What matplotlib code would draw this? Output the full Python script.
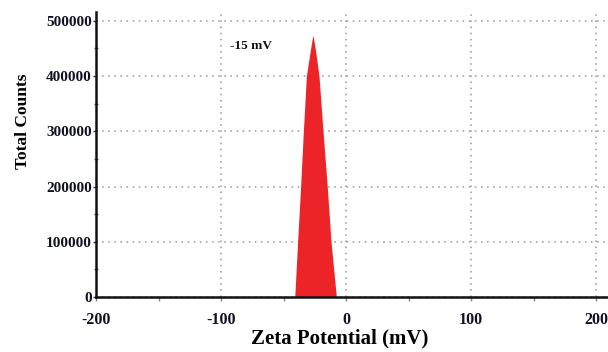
import matplotlib
matplotlib.use("Agg")
import matplotlib.pyplot as plt
from matplotlib.ticker import MultipleLocator

# Data
zeta_mv = [-41.0, -38.7, -36.3, -34.1, -31.7, -29.0, -27.5, -26.5, -25.5, -24.0, -21.6, -18.4, -15.0, -12.0, -7.7]
counts = [0, 100000, 200000, 300000, 400000, 440000, 461000, 474000, 462000, 440000, 400000, 300000, 200000, 100000, 0]
xticks = [-200, -100, 0, 100, 200]
yticks = [0, 100000, 200000, 300000, 400000, 500000]
annotation = "-15 mV"

plt.rcParams['font.family'] = ['Liberation Serif', 'DejaVu Serif']

fig = plt.figure(figsize=(6.08, 3.52), dpi=100)
ax = fig.add_axes([96/608, 55/352, 511/608, 285/352])

ax.fill_between(zeta_mv, counts, 0, color='#ec2327', linewidth=0)

ax.set_xlim(-200, 208.8)
ax.set_ylim(0, 516000)
ax.set_xticks(xticks)
ax.set_yticks(yticks)
ax.xaxis.set_minor_locator(MultipleLocator(50))
ax.yaxis.set_minor_locator(MultipleLocator(50000))
ax.set_xticklabels([str(t) for t in xticks], fontsize=11.5, fontweight='bold', color='#111122')
ax.set_yticklabels([str(t) for t in yticks], fontsize=11, fontweight='bold', color='#111122')

ax.grid(True, which='major', linestyle=(0, (1, 3)), color='#999999', linewidth=1.1)
ax.set_axisbelow(True)

for s in ['top', 'right']:
    ax.spines[s].set_visible(False)
for s in ['left', 'bottom']:
    ax.spines[s].set_linewidth(1.8)
    ax.spines[s].set_color('#111111')

ax.tick_params(axis='x', which='both', direction='out', length=3, width=1, color='#888888', pad=8)
ax.tick_params(axis='y', which='major', direction='out', length=2, width=1, color='#333333', pad=1)
ax.tick_params(axis='y', which='minor', direction='inout', length=3, width=1, color='#666666')

ax.set_xlabel("Zeta Potential (mV)", fontsize=15, fontweight='bold')
ax.xaxis.set_label_coords(0.4775, -0.11)
ax.set_ylabel("Total Counts", fontsize=12.5, fontweight='bold')
ax.yaxis.set_label_coords(-0.128, 0.618)

ax.text(-93, 455000, annotation, fontsize=9.5, fontweight='bold', color='#111111', va='center')

fig.savefig("out.png", dpi=100)
